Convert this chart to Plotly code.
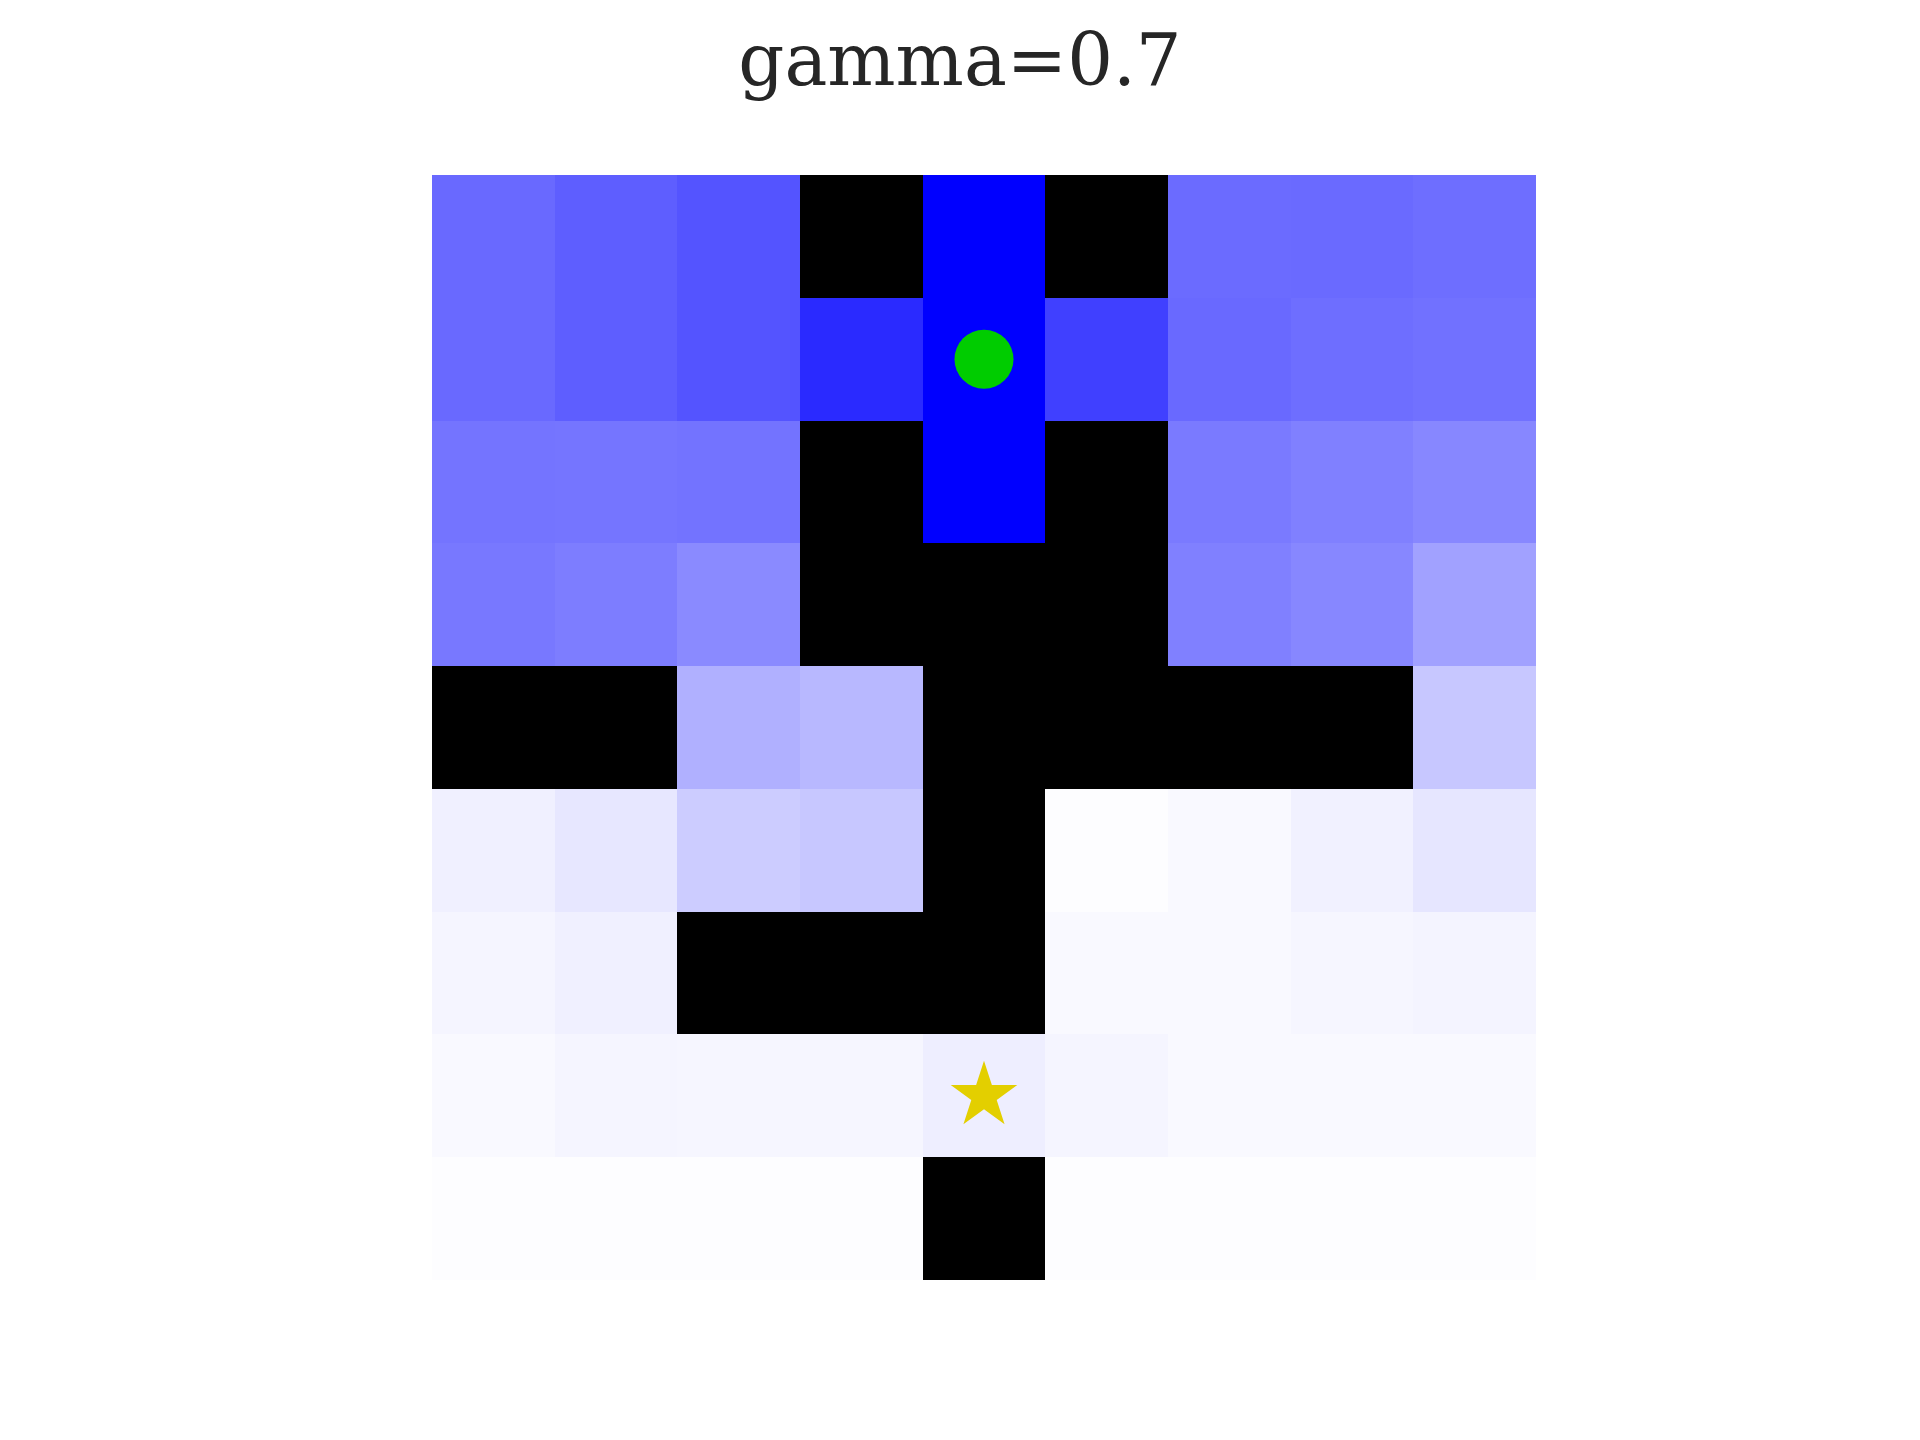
import numpy as np
import plotly.graph_objects as go

W = None  # wall marker

rows = list(range(9))
cols = list(range(9))

values = [
    [0.59, 0.63, 0.67, W,     1.00, W,     0.58, 0.585, 0.57],
    [0.59, 0.63, 0.67, 0.835, 1.00, 0.75,  0.59, 0.57, 0.555],
    [0.545, 0.54, 0.55, W,    1.00, W,     0.52, 0.50, 0.47],
    [0.53, 0.51, 0.46, W,     W,    W,     0.50, 0.47, 0.37],
    [W,    W,    0.31, 0.28,  W,    W,     W,    W,    0.22],
    [0.06, 0.095, 0.20, 0.22, W,    0.008, 0.024, 0.055, 0.10],
    [0.04, 0.06, W,    W,     W,    0.024, 0.024, 0.035, 0.045],
    [0.024, 0.04, 0.037, 0.035, 0.067, 0.04, 0.024, 0.022, 0.022],
    [0.008, 0.008, 0.006, 0.006, W,  0.006, 0.006, 0.006, 0.008],
]

agent_pos = (1, 4)   # (row, col)
goal_pos = (7, 4)
title_text = "gamma=0.7"

z_vals = [[np.nan if v is None else v for v in r] for r in values]
z_wall = [[1 if v is None else np.nan for v in r] for r in values]

fig = go.Figure()
fig.add_trace(go.Heatmap(
    z=z_vals, x=cols, y=rows,
    colorscale=[[0, "#ffffff"], [1, "#0000ff"]],
    zmin=0, zmax=1, showscale=False, hoverinfo="skip",
))
fig.add_trace(go.Heatmap(
    z=z_wall, x=cols, y=rows,
    colorscale=[[0, "#000000"], [1, "#000000"]],
    showscale=False, hoverinfo="skip",
))
fig.add_trace(go.Scatter(
    x=[agent_pos[1]], y=[agent_pos[0]], mode="markers",
    marker=dict(symbol="circle", size=59, color="#00cc00", line=dict(width=0)),
    showlegend=False,
))
fig.add_trace(go.Scatter(
    x=[goal_pos[1]], y=[goal_pos[0]], mode="markers",
    marker=dict(symbol="star", size=50, color="#e3cf00", line=dict(width=0)),
    showlegend=False,
))

fig.update_layout(
    width=1920, height=1440,
    margin=dict(l=432, r=384, t=175, b=160),
    paper_bgcolor="white", plot_bgcolor="white",
    title=dict(text=title_text, x=0.5, xanchor="center", y=1 - 85 / 1440, yanchor="bottom",
               yref="container",
               font=dict(family="DejaVu Serif", size=72, color="#262626")),
    showlegend=False,
)
fig.update_xaxes(range=[-0.5, 8.5], visible=False, showgrid=False, zeroline=False)
fig.update_yaxes(range=[8.5, -0.5], visible=False, showgrid=False, zeroline=False)

fig.write_html("out.html")
